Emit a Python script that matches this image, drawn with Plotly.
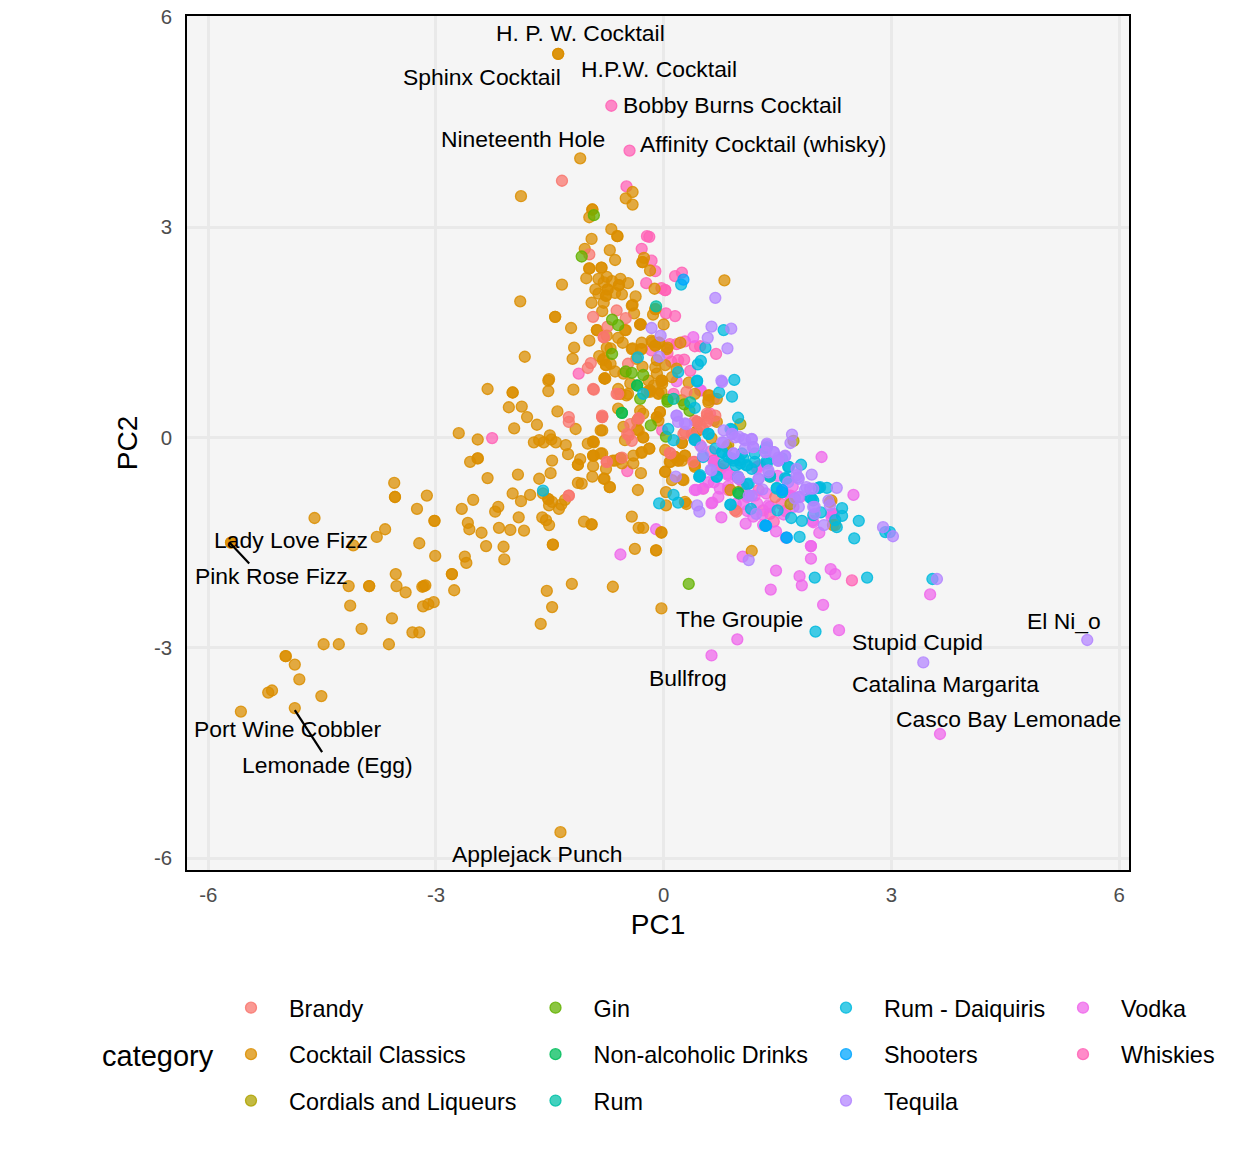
import plotly.graph_objects as go

categories = ["Brandy", "Cocktail Classics", "Cordials and Liqueurs", "Gin", "Non-alcoholic Drinks", "Rum",
              "Rum - Daiquiris", "Shooters", "Tequila", "Vodka", "Whiskies"]
palette = ["248,118,109", "219,142,0", "174,162,0", "100,178,0", "0,189,92", "0,193,167",
           "0,186,222", "0,166,255", "179,133,255", "239,103,235", "255,99,182"]

brandy = [(-1.34,3.66),(-0.98,2.61),(-0.62,1.81),(-0.93,1.72),(-0.50,1.70),(-0.74,1.58),(-0.79,1.43),(-0.79,1.43),
 (-0.96,1.06),(-1.0,0.99),(-0.47,1.05),(-0.93,0.69),(-0.62,0.62),(0.30,0.65),(-0.60,0.62),(-0.81,0.29),(-0.81,0.29),
 (-0.33,0.27),(-0.33,0.27),(-0.44,0.19),(-0.46,0.03),(-0.42,-0.05),(-0.75,-0.35),(-0.75,-0.35),(-0.55,-0.29),
 (0.08,-0.22),(0.26,0.05),(0.44,0.22),(0.44,0.22),(0.57,0.34),(0.48,0.17),(0.39,0.0),(1.47,-0.85),(0.94,-1.04),(0.96,-1.06),
 (-1.25,0.29),(-1.25,0.22),(-1.25,-0.83),(-1.25,-0.83),(0.41,0.24),(0.57,0.31),(0.37,0.05),(0.52,0.12),(0.28,0.08),(0.68,0.31),(0.59,0.27),
 (-0.92,0.68),(-0.81,0.31),(-0.48,0.05),(0.09,-0.23),(0.57,0.22),(0.39,-0.35)]
cocktail_classics = [(-2.32,0.69),(-1.99,0.64),(-1.99,0.64),(-1.52,0.66),(-1.52,0.81),(-1.19,0.68),(-2.04,0.43),(-1.87,0.44),
 (-1.80,0.29),(-1.67,0.18),(-1.97,0.13),(-1.40,0.37),(-1.16,0.12),(-0.83,0.10),(-2.70,0.06),(-2.45,-0.03),(-1.71,-0.07),
 (-1.64,-0.04),(-1.58,-0.07),(-1.50,0.03),(-1.48,-0.03),(-1.42,-0.07),(-1.29,-0.11),(-1.26,-0.24),(-1.0,-0.09),(-0.93,-0.06),
 (-0.93,-0.06),(-0.93,-0.26),(-0.93,-0.26),(-1.10,-0.31),(-1.13,-0.39),(-1.13,-0.39),(-0.93,-0.41),(-1.47,-0.33),(-1.49,-0.51),
 (-1.92,-0.53),(-2.32,-0.58),(-2.55,-0.35),(-2.45,-0.30),(-2.45,-0.30),(-1.64,-0.59),(-1.99,-0.80),(-1.88,-0.91),(-1.76,-0.82),
 (-1.59,-0.80),(-1.52,-0.88),(-1.52,-0.88),(-1.47,-0.92),(-1.51,-0.97),(-1.30,-0.89),(-1.35,-0.96),(-1.38,-1.02),(-0.94,-0.56),
 (-1.13,-0.65),(-1.08,-0.66),(-0.79,-0.59),(-0.83,-0.23),(-0.71,-0.71),(-3.55,-0.65),(-3.54,-0.85),(-3.54,-0.85),(-3.12,-0.83),
 (-3.25,-1.02),(-3.02,-1.19),(-3.02,-1.19),(-2.66,-1.02),(-2.51,-0.89),(-2.18,-0.99),(-2.22,-1.06),(-1.91,-1.14),(-1.60,-1.14),
 (-1.55,-1.18),(-1.51,-1.25),(-2.58,-1.22),(-2.56,-1.31),(-2.40,-1.36),(-2.17,-1.29),(-2.02,-1.32),(-1.84,-1.33),(-1.05,-1.20),
 (-0.95,-1.24),(-0.95,-1.24),(-2.34,-1.55),(-2.11,-1.56),(-1.46,-1.53),(-1.46,-1.53),(-2.10,-1.74),(-2.62,-1.70),(-2.60,-1.79),
 (-3.01,-1.69),(-3.22,-1.51),(-3.67,-1.31),(-3.78,-1.42),(-4.60,-1.15),(-4.09,-1.54),(-5.70,-1.50),(-5.70,-1.50),(-3.53,-1.95),
 (-3.52,-2.12),(-3.40,-2.21),(-4.15,-2.12),(-3.88,-2.12),(-3.88,-2.12),(-3.18,-2.13),(-3.14,-2.11),(-3.16,-2.12),(-2.79,-1.95),
 (-2.79,-1.95),(-2.76,-2.18),(-1.21,-2.09),(-1.54,-2.19),(-1.47,-2.42),(-1.62,-2.66),(-0.67,-2.13),(-4.13,-2.40),(-3.17,-2.41),
 (-3.10,-2.38),(-3.03,-2.35),(-3.58,-2.58),(-3.98,-2.73),(-3.31,-2.78),(-3.22,-2.78),(-4.48,-2.95),(-4.28,-2.95),(-3.62,-2.95),
 (-4.98,-3.12),(-4.98,-3.12),(-4.86,-3.24),(-4.80,-3.45),(-5.57,-3.91),(-5.21,-3.64),(-5.16,-3.61),(-4.51,-3.69),(-4.86,-3.86),
 (-1.36,-5.63),(-1.39,5.47),(-1.39,5.47),(-1.10,3.98),(-1.88,3.44),(-0.03,-2.44),(-0.10,-1.61),(-0.03,-1.35),
 (-0.41,3.50),(-0.50,3.41),(-0.41,3.32),(-0.94,3.25),(-0.94,3.25),(-0.98,3.14),(-0.69,2.97),(-0.61,2.87),(-0.61,2.87),(-0.95,2.83),
 (-1.04,2.69),(-0.71,2.67),(-0.64,2.53),(-0.26,2.56),(-0.28,2.50),(-0.28,2.50),(-0.18,2.38),(-0.98,2.41),(-0.98,2.41),(-0.82,2.42),
 (-0.82,2.42),(-1.02,2.27),(-0.86,2.26),(-0.75,2.29),(-0.79,2.21),(-0.57,2.26),(-0.47,2.20),(-0.59,2.17),(-0.59,2.17),(-0.74,2.11),
 (-0.74,2.11),(-0.76,2.02),(-0.76,2.02),(-0.90,2.11),(-0.55,2.04),(-0.64,2.06),(-0.37,2.01),(-0.12,2.12),(-1.34,2.18),(0.80,2.24),
 (-1.89,1.94),(-0.95,1.92),(-0.79,1.92),(-0.41,1.89),(-0.39,1.77),(-0.81,1.80),(-0.11,1.83),(-0.11,1.83),(-0.14,1.75),(-1.43,1.72),
 (-1.43,1.72),(-1.22,1.56),(-0.30,1.61),(0.0,1.61),(-0.88,1.53),(-0.50,1.53),(-0.60,1.42),(-0.54,1.35),(-0.98,1.38),(-0.75,1.45),
 (-1.18,1.28),(-0.75,1.28),(-0.70,1.27),(-0.41,1.27),(-0.29,1.35),(-0.30,1.26),(-0.15,1.36),(-0.06,1.35),(-0.06,1.35),(0.05,1.28),
 (0.22,1.35),(-1.83,1.15),(-1.20,1.12),(-0.85,1.16),(-0.79,1.12),(-0.76,1.03),(-0.76,1.03),(-0.64,0.94),(-0.09,1.10),(0.02,1.03),
 (-0.11,1.00),(-0.28,1.01),(0.17,0.98),(-1.51,0.83),(-0.78,0.84),(-0.78,0.84),(-0.53,0.91),(-0.09,0.91),(-0.03,0.81),(-0.03,0.81),
 (-0.20,0.81),(-0.60,0.69),(-0.47,0.62),(-0.18,0.67),(-0.18,0.67),(-0.03,0.65),(0.41,0.62),(0.60,0.60),(-0.81,0.10),(-0.60,0.41),
 (-0.49,0.60),(-0.57,0.62),(-0.22,0.65),(-0.02,0.77),(-0.18,0.65),(-0.07,0.62),(0.24,0.53),(0.59,0.60),(0.59,0.53),(0.70,0.55),
 (-0.05,0.36),(-0.09,0.29),(-0.09,0.29),(-0.27,0.34),(-0.35,0.24),(-0.53,0.15),(-0.35,0.11),(-0.51,-0.04),(-0.27,0.0),(-0.27,0.0),
 (-0.19,-0.16),(-0.19,-0.16),(-0.29,-0.21),(-0.40,-0.26),(-0.57,-0.30),(-0.57,-0.30),(-0.67,-0.33),(-0.81,-0.23),(-0.40,-0.37),
 (-0.55,-0.37),(-0.76,-0.45),(-0.78,-0.59),(-0.71,-0.71),(-0.30,-0.51),(-0.34,-0.75),(0.02,-0.18),(0.08,-0.35),(0.19,-0.33),(0.19,-0.33),
 (0.15,-0.28),(0.15,-0.28),(0.02,-0.49),(0.02,-0.49),(0.24,-0.08),(0.24,-0.08),(0.28,-0.26),(0.41,-0.40),(0.44,0.09),(0.63,-0.01),
 (0.85,-0.11),(0.25,-0.60),(0.11,-0.61),(0.03,-0.78),(0.03,-0.97),(0.30,-0.95),(0.28,-0.92),(0.88,-0.75),(-0.42,-1.13),(-0.33,-1.29),
 (-0.27,-1.29),(-0.03,-1.36),(-0.38,-1.59),(-0.10,-1.61),(1.16,-1.62),(2.19,-0.92),(2.26,-1.25),
 (-0.77,0.84),(-0.44,0.77),(-0.02,0.81),(-0.07,0.63),(-0.31,0.38),(-0.07,0.24),(-0.05,0.36),(-0.33,0.10),(0.44,0.09),(0.70,0.22),
 (0.28,-0.26),(0.24,-0.33),(0.26,-0.61),(0.41,-0.42),(0.59,0.50),(-0.92,-0.07),(-0.92,-0.26),(-0.64,-0.33),(-0.29,-0.22),(0.09,-0.35),
 (-0.42,1.88),(-0.31,1.61),(-0.31,1.61),(-0.88,1.53),(-0.51,1.53),(-0.42,1.26),(-0.29,1.26),(-0.16,1.38),(-0.11,1.31),(-0.11,1.31),(0.04,1.26),
 (2.21,-0.90),(2.23,-1.25),(-0.86,2.05),(-0.68,2.23),(-0.80,1.10),(-0.70,1.05),(-0.36,1.12),(-0.13,0.74),(0.11,0.86),(0.33,0.78)]
cordials = [(1.01,0.19),(1.71,-0.05),(1.67,-0.95),(0.83,-0.14),(1.40,-0.56)]
gin = [(-0.92,3.17),(-1.08,2.58),(-0.68,1.68),(-0.60,1.60),(-0.68,1.19),(-0.50,0.94),(-0.42,0.92),(-0.27,0.89),(-0.35,0.74),
 (-0.31,0.55),(0.05,0.54),(0.05,0.51),(0.27,0.47),(0.34,0.38),(-0.17,0.17),(0.03,0.01),(-0.55,0.35),(0.98,-0.78),(0.33,-2.09)]
non_alcoholic = [(-0.55,0.35),(-0.35,0.74),(0.99,-0.80)]
rum = [(-0.10,1.87),(0.35,0.50),(0.13,0.55),(1.40,-0.55)]
rum_daiquiris = [(0.23,2.18),(0.79,1.53),(0.55,1.28),(0.49,1.09),(0.45,1.04),(-0.34,1.14),(0.19,0.93),(0.44,0.81),(0.93,0.82),
 (0.90,0.58),(0.73,0.64),(-0.27,0.62),(0.44,0.80),(0.41,0.42),(0.98,0.28),(0.06,0.12),(0.13,-0.04),(0.41,-0.03),(0.59,0.05),(0.90,0.11),
 (0.68,-0.16),(0.77,-0.21),(0.92,-0.33),(1.01,-0.37),(0.52,-0.28),(0.79,-0.37),(1.10,-0.40),(1.16,-0.45),(1.34,-0.16),(1.36,-0.37),
 (1.56,-0.30),(1.65,-0.42),(1.81,-0.39),(1.40,-0.56),(1.60,-0.58),(0.47,-0.56),(0.47,-0.56),(0.70,-0.56),(0.98,-0.56),(1.10,-0.67),
 (1.49,-0.72),(1.56,-0.78),(2.04,-0.72),(2.04,-0.72),(2.15,-0.72),(1.93,-0.86),(1.97,-0.90),(2.35,-1.01),(2.35,-1.12),(2.26,-1.18),
 (2.28,-1.28),(2.57,-1.19),(2.51,-1.44),(1.68,-1.15),(1.82,-1.19),(1.97,-1.11),(2.07,-1.07),(1.79,-1.42),(1.62,-1.43),(1.34,-1.26),
 (1.34,-1.26),(1.50,-1.04),(1.15,-1.02),(0.88,-0.96),(0.88,-0.96),(-0.06,-0.94),(0.13,-0.82),(0.19,-0.93),(1.99,-2.0),(2.68,-2.0),
 (2.92,-1.35),(2.98,-1.35),(3.54,-2.02),(2.0,-2.77),(-1.59,-0.76),
 (0.77,-0.21),(0.85,-0.28),(1.0,-0.33),(1.09,-0.40),(1.03,-0.23),(0.48,-0.54),(0.70,-0.56),(1.12,-0.66),(1.2,-0.23),(1.36,-0.33),(1.36,-0.14),
 (0.88,0.12),(0.59,0.05),(0.41,-0.04),(1.49,-0.73),(1.56,-0.78),(1.64,-0.42),(1.62,-0.59),(0.90,-0.30),(0.95,-0.40),(1.05,-0.30),(1.20,-0.35),(1.95,-0.87),(2.06,-0.71)]
shooters = [(0.26,2.25),(1.56,-0.75),(1.35,-1.26),(1.62,-1.43)]
tequila = [(0.68,1.99),(0.63,1.58),(0.89,1.55),(0.58,1.42),(0.84,1.27),(-0.16,1.56),(-0.04,1.45),(-0.06,1.15),(0.76,0.81),(0.77,0.79),
 (0.17,0.31),(0.17,0.31),(0.19,0.22),(0.30,0.19),(0.50,-0.14),(0.52,-0.26),(0.62,-0.46),(0.16,-0.56),(0.44,-0.97),(0.47,-1.06),
 (1.12,-1.75),(1.69,0.04),(1.67,-0.08),(0.79,0.10),(0.90,0.05),(0.94,0.0),(1.05,-0.02),(1.16,-0.03),(1.18,-0.14),(1.07,-0.16),(0.92,-0.23),
 (0.77,-0.07),(1.36,-0.11),(1.34,-0.21),(1.45,-0.21),(1.60,-0.27),(1.51,-0.33),(1.51,-0.33),(1.51,-0.29),(1.75,-0.45),(1.78,-0.59),
 (1.95,-0.53),(1.64,-0.64),(1.38,-0.47),(1.25,-0.59),(1.30,-0.74),(1.12,-0.83),(1.16,-0.83),(1.78,-0.85),(1.78,-0.99),(1.88,-0.71),
 (1.97,-0.73),(2.28,-0.72),(2.17,-0.90),(2.19,-0.97),(1.99,-0.99),(1.99,-1.09),(2.11,-1.25),(1.22,-1.09),(0.98,-0.56),(2.89,-1.28),(3.02,-1.41),
 (3.42,-3.21),(5.58,-2.89),(3.60,-2.02),
 (0.28,0.20),(0.90,0.05),(0.99,0.01),(0.79,-0.07),(1.07,-0.04),(1.16,-0.02),(1.18,-0.14),(0.92,-0.23),(1.34,-0.21),(1.45,-0.21),(1.60,-0.26),
 (1.51,-0.33),(1.36,-0.09),(0.99,-0.59),(1.25,-0.59),(0.63,-0.47),(1.38,-0.50),(1.75,-0.54),(1.73,-0.87),(1.86,-0.75),(1.93,-0.73),(1.97,-0.99),(1.77,-0.57)]
vodka = [(0.39,1.43),(0.17,0.80),(0.49,0.67),(2.08,-0.28),(2.50,-0.82),(0.43,-0.75),(0.64,-0.93),(0.76,-1.14),(1.08,-1.23),(1.18,-1.13),
 (-0.10,-1.31),(-0.57,-1.67),(1.04,-1.70),(1.48,-1.90),(1.41,-2.17),(1.79,-1.98),(1.82,-2.11),(1.94,-1.73),(1.94,-1.55),(1.94,-1.55),
 (2.20,-1.88),(2.26,-1.95),(2.10,-2.39),(1.48,-1.34),(1.31,-1.25),(1.61,-1.43),(1.97,-1.21),(2.05,-1.36),(1.40,-0.99),(0.74,-0.73),
 (0.66,-0.64),(0.85,-0.54),(0.96,-0.56),(1.12,-0.83),(1.23,-0.94),(1.71,-0.99),(1.80,-0.85),(2.21,-1.13),(0.48,0.67),(0.66,0.55),
 (3.51,-2.24),(3.64,-4.23),(2.31,-2.75),(0.97,-2.88),(0.63,-3.11),
 (0.41,-0.75),(0.52,-0.73),(0.63,-0.94),(0.66,-0.35),(0.85,-0.52),(1.27,-0.40),(1.23,-0.45),(1.1,-0.85),(1.38,-0.97),(1.67,-0.85),(0.59,-0.64),
 (0.96,-0.57),(1.20,-0.83),(1.71,-0.85),(2.21,-1.09),(1.96,-1.19),(1.50,-0.55),(1.70,-0.70),
 (0.72,-0.85),(0.95,-0.95),(1.05,-0.95),(1.35,-0.80),(1.30,-1.10),(1.58,-1.10),(1.10,-1.05),(0.85,-0.70)]
whiskies = [(-0.49,3.58),(-0.22,2.87),(-0.19,2.86),(-0.29,2.69),(-0.16,2.52),(-0.11,2.37),(-0.23,2.20),(0.15,2.30),(0.24,2.35),(-0.03,2.13),
 (0.02,2.10),(0.02,2.10),(0.03,1.77),(0.15,1.73),(-1.12,0.91),(0.08,1.33),(0.17,1.33),(0.28,1.37),(-0.16,1.24),(0.19,1.10),(0.27,1.11),
 (0.69,1.19),(0.48,1.30),(0.41,1.30),(-0.48,-0.48),(-0.02,0.10),(0.66,0.24),(0.61,0.34),(0.13,0.62),(0.48,-0.11),(0.41,-0.35),(0.66,-0.33),
 (0.66,-0.33),(0.70,-0.47),(0.52,-0.73),(0.85,-0.75),(1.31,-1.04),(1.40,-1.09),(1.67,-0.83),(1.23,-0.42),(2.48,-2.04),(2.24,-1.09),
 (-0.69,4.73),(-0.45,4.09),(-2.26,-0.01),(0.05,1.20),(0.10,1.08),(0.35,0.95),(0.66,-0.33),(0.80,-0.40),(1.05,-0.70),(1.55,-0.95),
 (1.0,-0.60),(1.25,-0.75),(1.45,-1.2),(1.60,-1.05),(0.62,-0.20),(0.75,-0.45)]

series_values = {"Brandy": brandy, "Cocktail Classics": cocktail_classics, "Cordials and Liqueurs": cordials, "Gin": gin,
                 "Non-alcoholic Drinks": non_alcoholic, "Rum": rum, "Rum - Daiquiris": rum_daiquiris, "Shooters": shooters,
                 "Tequila": tequila, "Vodka": vodka, "Whiskies": whiskies}
draw_order = ["Whiskies", "Vodka", "Cocktail Classics", "Cordials and Liqueurs", "Brandy", "Gin", "Non-alcoholic Drinks",
              "Rum", "Rum - Daiquiris", "Tequila", "Shooters"]
legend_columns = [["Brandy", "Cocktail Classics", "Cordials and Liqueurs"],
                  ["Gin", "Non-alcoholic Drinks", "Rum"],
                  ["Rum - Daiquiris", "Shooters", "Tequila"],
                  ["Vodka", "Whiskies"]]

label_names = ["H. P. W. Cocktail", "Sphinx Cocktail", "H.P.W. Cocktail", "Bobby Burns Cocktail", "Nineteenth Hole",
               "Affinity Cocktail (whisky)", "Lady Love Fizz", "Pink Rose Fizz", "The Groupie", "Stupid Cupid", "El Ni_o",
               "Bullfrog", "Catalina Margarita", "Casco Bay Lemonade", "Port Wine Cobbler", "Lemonade (Egg)", "Applejack Punch"]
label_pc1 = [-1.09, -2.39, -0.06, 0.90, -1.86, 1.31, -4.91, -5.17, 1.00, 3.34, 5.28, 0.32, 3.71, 4.54, -4.95, -4.43, -1.66]
label_pc2 = [5.77, 5.14, 5.25, 4.74, 4.25, 4.18, -1.47, -1.98, -2.59, -2.92, -2.62, -3.43, -3.52, -4.02, -4.16, -4.67, -5.94]
repel_segments = [((-5.72, -5.46), (-1.50, -1.80)), ((-4.86, -4.50), (-3.89, -4.49))]
ticks = [-6, -3, 0, 3, 6]
tick_labels = ["-6", "-3", "0", "3", "6"]

FONT = "Liberation Sans"
LEFT, RIGHT, TOP, BOTTOM = 187, 1129, 16, 870
W, H = 1248, 1152


def px(x):
    return (x - LEFT) / (RIGHT - LEFT)


def py(y):
    return (BOTTOM - y) / (BOTTOM - TOP)


fig = go.Figure()
legend_of = {}
rank_of = {}
for i, col in enumerate(legend_columns):
    for j, name in enumerate(col):
        legend_of[name] = "legend" if i == 0 else f"legend{i + 1}"
        rank_of[name] = j + 1

for name in draw_order:
    rgb = palette[categories.index(name)]
    pts = series_values[name]
    fig.add_trace(go.Scatter(
        x=[p[0] for p in pts], y=[p[1] for p in pts], mode="markers", name=name,
        legend=legend_of[name], legendrank=rank_of[name], legendgroup=name,
        marker=dict(size=11, color=f"rgba({rgb},0.74)", line=dict(color=f"rgba({rgb},0.85)", width=1.3)),
        hoverinfo="x+y+name"))

for sx, sy in repel_segments:
    fig.add_trace(go.Scatter(x=sx, y=sy, mode="lines", line=dict(color="black", width=2.2),
                             showlegend=False, hoverinfo="skip"))

for name, x, y in zip(label_names, label_pc1, label_pc2):
    fig.add_annotation(x=x, y=y, text=name, showarrow=False, font=dict(family=FONT, size=22.9, color="black"),
                       xanchor="center", yanchor="middle")

fig.add_annotation(xref="paper", yref="paper", x=px(158), y=py(1056), text="category", showarrow=False,
                   font=dict(family=FONT, size=29, color="black"), xanchor="center", yanchor="middle")

legend_x = [213, 517.5, 808, 1045]
legend_common = dict(font=dict(family=FONT, size=23.4, color="black"), bgcolor="rgba(0,0,0,0)", borderwidth=0,
                     orientation="v", xanchor="left", yanchor="top", y=py(986), tracegroupgap=13,
                     itemwidth=66, traceorder="grouped", itemclick=False, itemdoubleclick=False)
layout_legends = {}
for i, lx in enumerate(legend_x):
    key = "legend" if i == 0 else f"legend{i + 1}"
    layout_legends[key] = dict(legend_common, x=px(lx))

axis_common = dict(tickmode="array", tickvals=ticks, ticktext=tick_labels, showgrid=True, gridcolor="#E9E9E9", gridwidth=3,
                   zeroline=False, showline=True, linecolor="black", linewidth=1.6, mirror=True,
                   ticks="outside", tickcolor="rgba(0,0,0,0)",
                   tickfont=dict(family=FONT, size=20.4, color="#4D4D4D"))

fig.update_layout(
    width=W, height=H, paper_bgcolor="white", plot_bgcolor="#F5F5F5",
    margin=dict(l=LEFT, r=W - RIGHT, t=TOP, b=H - BOTTOM, autoexpand=False),
    xaxis=dict(axis_common, range=[-6.28, 6.13], ticklen=5.5,
               title=dict(text="PC1", font=dict(family=FONT, size=28, color="black"), standoff=9.5)),
    yaxis=dict(axis_common, range=[-6.17, 6.01], ticklen=9,
               title=dict(text="PC2", font=dict(family=FONT, size=28, color="black"), standoff=8)),
    **layout_legends)

fig.write_html("out.html", config={"displayModeBar": False}, post_script="document.body.style.margin='0';")
